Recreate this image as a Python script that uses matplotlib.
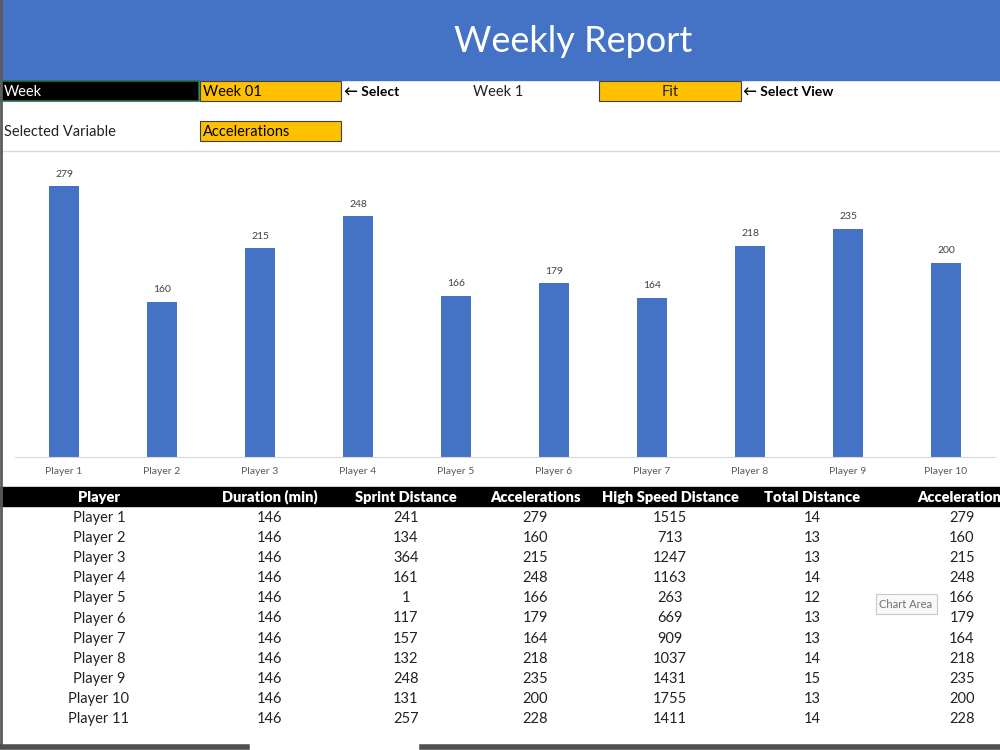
import matplotlib
matplotlib.use("Agg")
import matplotlib.pyplot as plt
from matplotlib.patches import Rectangle

plt.rcParams['font.family'] = ['Lato', 'DejaVu Sans']

# chart data
players = ["Player 1", "Player 2", "Player 3", "Player 4", "Player 5",
           "Player 6", "Player 7", "Player 8", "Player 9", "Player 10"]
accelerations = [279, 160, 215, 248, 166, 179, 164, 218, 235, 200]

# table data
table_headers = ["Player", "Duration (min)", "Sprint Distance", "Accelerations",
                 "High Speed Distance", "Total Distance", "Accelerations"]
table_players = ["Player 1", "Player 2", "Player 3", "Player 4", "Player 5", "Player 6",
                 "Player 7", "Player 8", "Player 9", "Player 10", "Player 11"]
duration = [146, 146, 146, 146, 146, 146, 146, 146, 146, 146, 146]
sprint_distance = [241, 134, 364, 161, 1, 117, 157, 132, 248, 131, 257]
accel_col = [279, 160, 215, 248, 166, 179, 164, 218, 235, 200, 228]
high_speed = [1515, 713, 1247, 1163, 263, 669, 909, 1037, 1431, 1755, 1411]
total_distance = [14, 13, 13, 14, 12, 13, 13, 14, 15, 13, 14]

blue = "#4472C4"
orange = "#FFC000"

fig = plt.figure(figsize=(10, 7.5), dpi=100)

# sheet background in pixel coords
bg = fig.add_axes([0, 0, 1, 1])
bg.set_xlim(0, 1000)
bg.set_ylim(750, 0)
bg.axis("off")

# title band
bg.add_patch(Rectangle((0, 0), 1000, 80, color=blue, zorder=1))
bg.text(573, 41, "Weekly Report", color="white", fontsize=26, ha="center", va="center")

# row 1: selectors
bg.add_patch(Rectangle((1, 81), 198, 20, facecolor="black", edgecolor="#217346", lw=1.2, zorder=2))
bg.text(4, 92, "Week", color="white", fontsize=10.5, va="center", zorder=3)
bg.add_patch(Rectangle((200, 81), 141, 20, facecolor=orange, edgecolor="#404040", lw=0.8, zorder=2))
bg.text(203, 92, "Week 01", color="black", fontsize=10.5, va="center", zorder=3)
bg.text(344, 92, "\u2190 Select", color="black", fontsize=10, fontweight="bold", va="center")
bg.text(473, 92, "Week 1", color="#222222", fontsize=10.5, va="center")
bg.add_patch(Rectangle((599, 81), 142, 20, facecolor=orange, edgecolor="#404040", lw=0.8, zorder=2))
bg.text(670, 92, "Fit", color="#222222", fontsize=10.5, ha="center", va="center", zorder=3)
bg.text(743, 92, "\u2190 Select View", color="black", fontsize=10, fontweight="bold", va="center")

# row 2
bg.text(4, 132, "Selected Variable", color="#222222", fontsize=10.5, va="center")
bg.add_patch(Rectangle((200, 121), 141, 20, facecolor=orange, edgecolor="#404040", lw=0.8, zorder=2))
bg.text(203, 132, "Accelerations", color="black", fontsize=10.5, va="center", zorder=3)

# chart area border line
bg.plot([0, 1000], [151, 151], color="#D9D9D9", lw=1)

# table header (last column is cut by the window edge, as in the sheet)
col_x = [99, 270, 406, 535, 670, 812, 962]
bg.add_patch(Rectangle((0, 487), 1000, 19, color="black", zorder=1))
for x, h in zip(col_x, table_headers):
    bg.text(x, 497, h, color="white", fontsize=10.5, fontweight="heavy",
            ha="center", va="center", zorder=3, clip_on=True)

columns = [table_players, duration, sprint_distance, accel_col,
           high_speed, total_distance, accel_col]
for r in range(len(table_players)):
    y = 518 + r * 20.1
    for x, col in zip(col_x, columns):
        bg.text(x, y, str(col[r]), color="#222222", fontsize=10.5, ha="center", va="center")

# tooltip
bg.add_patch(Rectangle((876, 594), 61, 20, facecolor="#F8F8F8", edgecolor="#C8C8C8", lw=0.8, zorder=4))
bg.text(906, 604, "Chart Area", color="#707070", fontsize=8, ha="center", va="center", zorder=5)

# window edges
bg.plot([1, 1], [0, 745], color="#5A5A5A", lw=2)
bg.plot([0, 247], [747, 747], color="#505050", lw=4)
bg.plot([422, 1000], [747, 747], color="#505050", lw=4)

# bar chart axes: x 15..995 px, y 166..457 px
ax = fig.add_axes([15 / 1000, 1 - 457 / 750, 980 / 1000, 291 / 750])
ax.patch.set_alpha(0)
xs = range(len(players))
bars = ax.bar(xs, accelerations, width=0.31, color=blue)
for b, v in zip(bars, accelerations):
    ax.text(b.get_x() + b.get_width() / 2, v + 8, str(v), ha="center", va="bottom",
            fontsize=7.5, color="#404040")
ax.set_xlim(-0.5, 9.5)
ax.set_ylim(0, 300)
ax.set_xticks(list(xs))
ax.set_xticklabels(players, fontsize=7.5, color="#595959")
ax.tick_params(axis="x", length=0, pad=7)
ax.set_yticks([])
for s in ["top", "left", "right"]:
    ax.spines[s].set_visible(False)
ax.spines["bottom"].set_color("#D9D9D9")

fig.savefig("out.png", dpi=100)
